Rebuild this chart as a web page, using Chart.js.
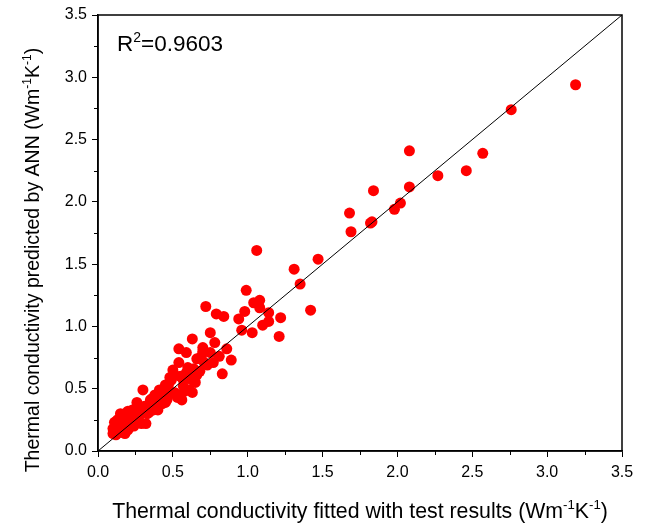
<!DOCTYPE html>
<html>
<head>
<meta charset="utf-8">
<script src="https://cdn.jsdelivr.net/npm/chart.js@4/dist/chart.umd.min.js"></script>
<style>
  html, body { margin: 0; padding: 0; background: #fff; }
  #wrap { width: 651px; height: 526px; position: relative; }
</style>
</head>
<body>
<div id="wrap"><canvas id="scatterChart"></canvas></div>
<script>
// Fitted (test) values and ANN predictions
const testFitted = [
  3.19, 2.76, 2.57, 2.46, 2.27, 2.08, 2.08, 2.02, 1.98, 1.84, 1.83, 1.82, 1.68, 1.69,
  1.47, 1.31, 1.35, 1.42, 1.06, 1.22, 1.21,
  0.99, 1.08, 1.08, 1.14, 1.10, 1.14, 1.04, 0.96, 1.03, 0.98, 0.94,
  0.72, 0.79, 0.84, 0.75, 0.63, 0.54, 0.59, 0.70, 0.78, 0.86, 0.89, 0.83, 0.75, 0.71, 0.77,
  0.54, 0.50, 0.59, 0.66, 0.65, 0.48, 0.57, 0.47, 0.61, 0.41, 0.38, 0.53, 0.60, 0.51, 0.49,
  0.63, 0.63, 0.56, 0.45, 0.30, 0.35, 0.30, 0.26, 0.23, 0.19, 0.15, 0.11, 0.10, 0.15, 0.21,
  0.29, 0.28, 0.37, 0.45, 0.51, 0.32, 0.10, 0.13,
  0.12, 0.14, 0.17, 0.20, 0.22, 0.25, 0.18, 0.24, 0.27, 0.31, 0.33, 0.36, 0.39, 0.42, 0.44,
  0.20, 0.13, 0.16, 0.23, 0.27, 0.34, 0.40, 0.46, 0.52, 0.57, 0.62, 0.68, 0.73, 0.69, 0.66,
  0.58, 0.43, 0.37, 0.26, 0.18, 0.12, 0.15, 0.21, 0.35, 0.48, 0.55, 0.64, 0.70, 0.81
];
const annPredicted = [
  2.94, 2.74, 2.39, 2.25, 2.21, 2.41, 2.12, 1.99, 1.94, 2.09, 1.84, 1.83, 1.91, 1.76,
  1.54, 1.46, 1.34, 1.13, 1.61, 1.07, 0.92,
  1.29, 1.21, 1.15, 1.11, 1.01, 1.04, 1.19, 0.97, 0.95, 1.12, 1.06,
  1.16, 1.10, 1.08, 0.95, 0.90, 0.82, 0.79, 0.83, 0.87, 0.82, 0.73, 0.62, 0.79, 0.71, 0.71,
  0.71, 0.65, 0.63, 0.61, 0.55, 0.59, 0.57, 0.53, 0.49, 0.49, 0.45, 0.43, 0.67, 0.61, 0.57,
  0.57, 0.47, 0.41, 0.53, 0.49, 0.39, 0.35, 0.39, 0.33, 0.26, 0.30, 0.23, 0.18, 0.15, 0.19,
  0.22, 0.29, 0.33, 0.39, 0.47, 0.22, 0.14, 0.19,
  0.16, 0.20, 0.22, 0.17, 0.24, 0.28, 0.30, 0.20, 0.32, 0.36, 0.30, 0.42, 0.37, 0.44, 0.48,
  0.32, 0.25, 0.27, 0.21, 0.24, 0.31, 0.33, 0.41, 0.46, 0.52, 0.58, 0.64, 0.69, 0.76, 0.74,
  0.48, 0.38, 0.34, 0.25, 0.14, 0.13, 0.18, 0.27, 0.41, 0.46, 0.60, 0.66, 0.80, 0.76
];
const axisRange = [0, 3.5];
const tickStep = 0.5;
const rSquared = '0.9603';

const FONT = '"Liberation Sans", Arial, sans-serif';

const points = testFitted.map((v, i) => ({ x: v, y: annPredicted[i] }));
const diagonal = axisRange.map(v => ({ x: v, y: v }));

// draw text with superscript parts
function drawRich(ctx, parts, x, y, size) {
  let total = 0;
  parts.forEach(p => {
    ctx.font = (p.sup ? size * 0.62 : size) + 'px ' + FONT;
    p.w = ctx.measureText(p.t).width;
    total += p.w;
  });
  let cx = x - total / 2;
  parts.forEach(p => {
    ctx.font = (p.sup ? size * 0.62 : size) + 'px ' + FONT;
    ctx.fillText(p.t, cx, p.sup ? y - size * 0.42 : y);
    cx += p.w;
  });
}

const framePlugin = {
  id: 'frame',
  afterDraw(chart) {
    const ctx = chart.ctx;
    const a = chart.chartArea;
    const xs = chart.scales.x, ys = chart.scales.y;
    ctx.save();
    ctx.strokeStyle = '#000';
    ctx.lineWidth = 1.5;
    ctx.strokeRect(a.left, a.top, a.width, a.height);

    // minor ticks
    ctx.lineWidth = 1;
    ctx.beginPath();
    for (let v = tickStep / 2; v < axisRange[1]; v += tickStep) {
      const px = Math.round(xs.getPixelForValue(v)) + 0.5;
      ctx.moveTo(px, a.bottom); ctx.lineTo(px, a.bottom + 4);
      const py = Math.round(ys.getPixelForValue(v)) + 0.5;
      ctx.moveTo(a.left, py); ctx.lineTo(a.left - 4, py);
    }
    ctx.stroke();

    ctx.fillStyle = '#000';
    ctx.textBaseline = 'alphabetic';
    ctx.textAlign = 'left';
    drawRich(ctx, [
      { t: 'Thermal conductivity fitted with test results (Wm' },
      { t: '-1', sup: true }, { t: 'K' }, { t: '-1', sup: true }, { t: ')' }
    ], (a.left + a.right) / 2, 518, 21.3);

    ctx.save();
    ctx.translate(39, (a.top + a.bottom) / 2 + 27);
    ctx.rotate(-Math.PI / 2);
    drawRich(ctx, [
      { t: 'Thermal conductivity predicted by ANN (Wm' },
      { t: '-1', sup: true }, { t: 'K' }, { t: '-1', sup: true }, { t: ')' }
    ], 0, 0, 19.5);
    ctx.restore();

    ctx.textAlign = 'left';
    let rx = a.left + 19;
    ctx.font = '22.5px ' + FONT;
    ctx.fillText('R', rx, 51);
    rx += ctx.measureText('R').width;
    ctx.font = '14px ' + FONT;
    ctx.fillText('2', rx, 42);
    rx += ctx.measureText('2').width;
    ctx.font = '22.5px ' + FONT;
    ctx.fillText('=' + rSquared, rx, 51);
    ctx.restore();
  }
};

const axisCommon = {
  type: 'linear',
  min: axisRange[0],
  max: axisRange[1],
  border: { display: true, color: '#000', width: 1.5 },
  grid: { drawOnChartArea: false, drawTicks: true, tickLength: 6, tickColor: '#000', tickWidth: 1 },
  ticks: {
    stepSize: tickStep,
    color: '#000',
    font: { family: FONT, size: 16 },
    callback: v => v.toFixed(1)
  }
};

new Chart(document.getElementById('scatterChart').getContext('2d'), {
  type: 'scatter',
  data: {
    datasets: [
      {
        type: 'line',
        data: diagonal,
        borderColor: '#000',
        borderWidth: 1,
        pointRadius: 0,
        fill: false,
        order: 0
      },
      {
        data: points,
        backgroundColor: '#ff0000',
        borderWidth: 0,
        pointRadius: 5.5,
        order: 1
      }
    ]
  },
  options: {
    responsive: true,
    maintainAspectRatio: false,
    animation: false,
    layout: { padding: { top: 15, right: 29, left: 0, bottom: 0 } },
    plugins: { legend: { display: false }, tooltip: { enabled: false } },
    scales: {
      x: Object.assign({}, axisCommon, {
        position: 'bottom',
        ticks: Object.assign({}, axisCommon.ticks, { padding: 6, maxRotation: 0 }),
        afterFit: s => { s.height = 75; }
      }),
      y: Object.assign({}, axisCommon, {
        position: 'left',
        ticks: Object.assign({}, axisCommon.ticks, { padding: 5 }),
        afterFit: s => { s.width = 98; }
      })
    }
  },
  plugins: [framePlugin]
});
</script>
</body>
</html>
